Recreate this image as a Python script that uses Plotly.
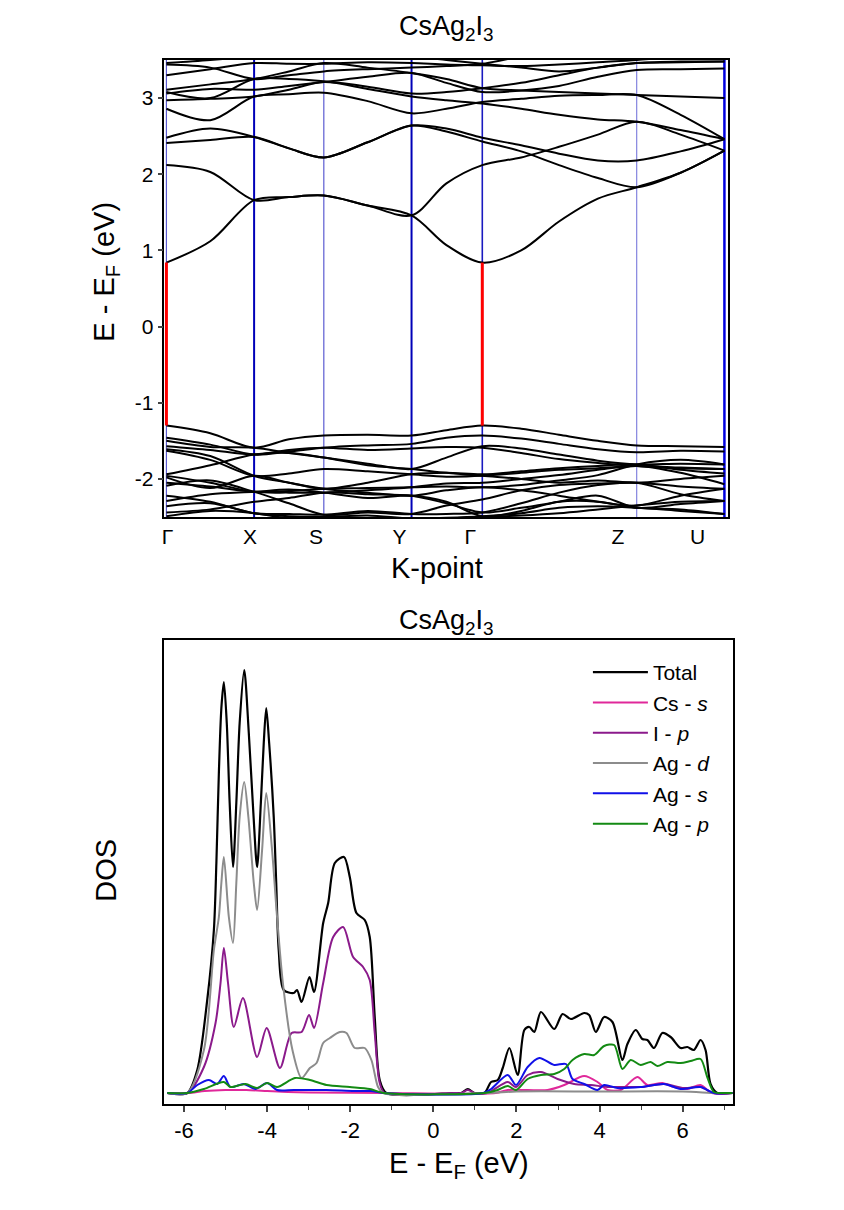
import plotly.graph_objects as go

# ---------------- Band structure data ----------------
k_nodes = [0, 88, 158, 246, 317, 472, 560]
k_labels = ["Γ", "X", "S", "Y", "Γ", "Z", "U"]
k_label_pos = [1, 84, 150, 234, 305, 453, 533]
k_samples = [0, 44, 88, 123, 158, 202, 246, 281, 317, 356, 394, 433, 472, 516, 560]
e_ticks = [-2, -1, 0, 1, 2, 3]
e_tick_text = ["-2", "-1", "0", "1", "2", "3"]

cb1 = [0.84, 1.12, 1.66, 1.70, 1.72, 1.59, 1.46, 1.07, 0.84, 1.00, 1.38, 1.68, 1.83, 2.02, 2.31]
cb2 = [2.12, 2.03, 1.66, 1.70, 1.72, 1.59, 1.46, 1.88, 2.12, 2.22, 2.36, 2.52, 2.69, 2.52, 2.31]
cb3 = [2.41, 2.45, 2.49, 2.34, 2.22, 2.42, 2.64, 2.56, 2.43, 2.30, 2.12, 1.95, 1.83, 2.02, 2.31]
cb4 = [2.48, 2.60, 2.49, 2.34, 2.22, 2.42, 2.64, 2.60, 2.48, 2.38, 2.27, 2.18, 2.18, 2.30, 2.46]
cb5 = [2.86, 2.71, 3.02, 3.05, 3.07, 2.96, 2.80, 2.86, 2.95, 2.99, 3.03, 3.04, 3.04, 2.78, 2.46]
cb6 = [2.97, 2.99, 3.02, 3.11, 3.21, 3.12, 3.02, 2.97, 2.93, 2.86, 2.78, 2.72, 2.69, 2.58, 2.46]
cb7 = [3.06, 3.12, 3.11, 3.16, 3.21, 3.28, 3.33, 3.20, 3.08, 3.10, 3.16, 3.28, 3.37, 3.38, 3.39]
cb8 = [3.08, 3.00, 3.25, 3.25, 3.22, 3.15, 3.06, 3.08, 3.13, 3.20, 3.30, 3.40, 3.46, 3.47, 3.48]
cb9 = [3.11, 3.18, 3.25, 3.35, 3.46, 3.40, 3.33, 3.25, 3.13, 3.10, 3.08, 3.06, 3.04, 3.02, 3.00]
cb10 = [3.30, 3.38, 3.46, 3.45, 3.45, 3.47, 3.46, 3.44, 3.43, 3.42, 3.44, 3.47, 3.50, 3.55, 3.60]
cb11 = [3.44, 3.40, 3.25, 3.30, 3.35, 3.38, 3.40, 3.42, 3.45, 3.55, 3.65, 3.70, 3.70, 3.70, 3.70]
cb12 = [3.46, 3.50, 3.55, 3.60, 3.60, 3.58, 3.55, 3.50, 3.45, 3.40, 3.35, 3.40, 3.46, 3.48, 3.48]

vb1 = [-1.30, -1.40, -1.59, -1.48, -1.43, -1.42, -1.43, -1.36, -1.30, -1.34, -1.42, -1.50, -1.56, -1.57, -1.58]
vb2 = [-1.46, -1.55, -1.68, -1.64, -1.59, -1.56, -1.54, -1.46, -1.43, -1.47, -1.54, -1.61, -1.65, -1.63, -1.64]
vb3 = [-1.50, -1.58, -1.59, -1.66, -1.72, -1.80, -1.87, -1.72, -1.57, -1.60, -1.68, -1.76, -1.81, -1.80, -1.81]
vb4 = [-1.57, -1.62, -1.68, -1.62, -1.59, -1.62, -1.60, -1.58, -1.59, -1.66, -1.74, -1.79, -1.83, -1.86, -1.87]
vb5 = [-1.61, -1.70, -1.96, -2.05, -2.13, -2.05, -1.94, -1.92, -1.94, -1.90, -1.86, -1.83, -1.81, -1.88, -1.93]
vb6 = [-1.94, -1.82, -1.68, -1.66, -1.72, -1.82, -1.87, -1.92, -1.96, -2.00, -2.05, -2.02, -2.05, -2.00, -1.96]
vb7 = [-1.96, -2.05, -2.17, -2.18, -2.18, -2.15, -2.11, -2.06, -2.05, -2.00, -1.95, -1.88, -1.83, -1.92, -2.07]
vb8 = [-1.98, -2.12, -1.96, -2.05, -2.13, -2.18, -2.22, -2.15, -2.11, -2.15, -2.22, -2.30, -2.35, -2.22, -2.13]
vb9 = [-2.09, -2.02, -2.17, -2.32, -2.47, -2.44, -2.46, -2.35, -2.27, -2.15, -2.08, -2.06, -2.05, -2.10, -2.13]
vb10 = [-2.22, -2.30, -2.45, -2.46, -2.47, -2.42, -2.46, -2.46, -2.44, -2.32, -2.18, -2.08, -2.05, -2.20, -2.29]
vb11 = [-2.29, -2.20, -2.17, -2.14, -2.18, -2.25, -2.22, -2.30, -2.49, -2.42, -2.30, -2.30, -2.38, -2.40, -2.46]
vb12 = [-2.36, -2.32, -2.45, -2.49, -2.50, -2.48, -2.52, -2.51, -2.49, -2.45, -2.38, -2.36, -2.38, -2.42, -2.46]
vb13 = [-2.49, -2.42, -2.45, -2.52, -2.55, -2.52, -2.55, -2.52, -2.50, -2.48, -2.45, -2.40, -2.35, -2.30, -2.29]
vb14 = [-1.63, -1.75, -1.96, -1.93, -1.87, -1.90, -1.94, -1.97, -1.96, -1.92, -1.88, -1.86, -1.83, -1.85, -1.87]
vb15 = [-2.05, -2.10, -2.17, -2.16, -2.13, -2.12, -2.11, -2.10, -2.11, -2.08, -2.02, -1.95, -1.81, -1.75, -1.81]
vb16 = [-2.44, -2.40, -2.30, -2.25, -2.18, -2.20, -2.22, -2.32, -2.44, -2.38, -2.30, -2.22, -2.38, -2.33, -2.29]

gap_k = [0, 317]
vbm_energy = -1.30
cbm_energy = 0.84

# ---------------- DOS data ----------------
tot_e = [-6.4, -5.92, -5.68, -5.44, -5.28, -5.22, -5.16, -5.10, -5.04, -4.97, -4.90, -4.82, -4.74,
         -4.66, -4.55, -4.44, -4.33, -4.24, -4.15, -4.08, -4.02, -3.95, -3.84, -3.78, -3.72,
         -3.60, -3.36, -3.28, -3.17, -2.98, -2.87, -2.65, -2.53, -2.37, -2.15, -2.01, -1.85, -1.65,
         -1.53, -1.41, -1.29, -1.13, 0.5, 0.67, 0.83, 0.99, 1.23, 1.39, 1.55, 1.67, 1.83, 2.03, 2.19,
         2.31, 2.43, 2.59, 2.91, 3.11, 3.31, 3.63, 3.75, 3.91, 4.11, 4.31, 4.55, 4.67, 4.87, 5.03,
         5.15, 5.31, 5.51, 5.71, 5.95, 6.11, 6.27, 6.43, 6.55, 6.67, 6.83, 7.2]
tot_v = [0, 0, 23, 93, 163, 230, 320, 385, 411, 370, 290, 226, 290,
         370, 423, 360, 280, 226, 290, 350, 385, 350, 276, 210, 143,
         103, 100, 103, 91, 116, 101, 170, 190, 230, 236, 216, 180, 173,
         156, 76, 13, 0, 0, 0, 4, 0, 0, 11, 13, 25, 45, 18, 63,
         66, 61, 81, 64, 79, 74, 80, 78, 61, 76, 71, 33, 49, 63, 54,
         53, 45, 60, 56, 45, 46, 43, 53, 43, 9, 0, 0]

cs_s_e = [-6.4, -5.9, -5.5, -5.0, -4.5, -4.0, -3.5, -3.0, -1.2, 1.5, 1.79, 2.27, 2.75, 3.15, 3.63,
          3.95, 4.19, 4.51, 4.91, 5.15, 5.51, 5.79, 6.11, 6.43, 6.7, 7.2]
cs_s_v = [0, 0, 2, 3, 3, 2, 1, 0.5, 0, 0, 3, 3, 3, 8, 17,
          11, 3, 3, 16, 8, 10, 6, 4, 8, 0, 0]

i_p_e = [-6.4, -5.92, -5.52, -5.24, -5.12, -5.04, -4.94, -4.80, -4.58, -4.24, -4.01, -3.69, -3.41,
         -3.17, -2.99, -2.87, -2.65, -2.41, -2.17, -1.93, -1.69, -1.53, -1.41, -1.29, -1.17, 0.5,
         0.67, 0.83, 0.99, 1.3, 1.79, 1.99, 2.27, 2.59, 2.99, 3.39, 3.79, 4.19, 4.67, 4.99, 5.55,
         6.03, 6.43, 6.75, 7.2]
i_p_v = [0, 0, 26, 70, 110, 145, 110, 66, 95, 36, 65, 25, 60,
         61, 78, 65, 110, 156, 166, 136, 126, 113, 60, 10, 0, 0,
         0, 3, 0, 0, 11, 6, 18, 21, 14, 9, 8, 6, 6, 6, 9,
         5, 6, 0, 0]

ag_d_e = [-6.4, -5.92, -5.52, -5.28, -5.16, -5.10, -5.04, -4.92, -4.82, -4.74, -4.66, -4.55, -4.45,
          -4.32, -4.24, -4.12, -4.02, -3.88, -3.76, -3.62, -3.39, -3.17, -2.97, -2.81, -2.65, -2.49,
          -2.25, -2.09, -1.89, -1.65, -1.49, -1.33, -1.21, 1.3, 2.0, 4.0, 6.0, 6.8, 7.2]
ag_d_v = [0, 0, 43, 143, 176, 210, 236, 176, 150, 210, 276, 311, 276,
          210, 183, 243, 300, 243, 176, 110, 43, 15, 25, 30, 50, 55,
          61, 60, 45, 45, 33, 6, 0, 0, 1.5, 1.5, 1.5, 0, 0]

ag_s_e = [-6.4, -5.92, -5.68, -5.40, -5.20, -5.04, -4.88, -4.56, -4.28, -4.00, -3.76, -3.36, -2.57,
          -1.9, -1.5, -1.2, 1.2, 1.39, 1.79, 1.99, 2.27, 2.55, 2.91, 3.19, 3.35, 3.63, 3.95, 4.11,
          4.43, 4.99, 5.55, 5.95, 6.43, 6.75, 7.2]
ag_s_v = [0, 0, 8, 13, 9, 17, 6, 9, 4, 10, 3, 3, 3,
          2, 2, 0, 0, 4, 18, 8, 26, 35, 28, 29, 14, 9, 3, 8,
          5, 6, 9, 4, 6, 0, 0]

ag_p_e = [-6.4, -5.92, -5.52, -5.04, -4.88, -4.52, -4.24, -4.00, -3.76, -3.33, -2.97, -2.57, -2.01,
          -1.53, -1.2, 1.23, 1.55, 1.79, 1.99, 2.27, 2.59, 2.91, 3.15, 3.35, 3.63, 3.87, 4.11, 4.35,
          4.55, 4.75, 4.99, 5.23, 5.39, 5.63, 5.95, 6.19, 6.43, 6.59, 6.75, 6.9, 7.2]
ag_p_v = [0, 0, 4, 11, 6, 9, 5, 10, 6, 15, 13, 8, 6,
          4, 0, 0, 3, 7, 3, 14, 18, 19, 24, 33, 39, 38, 47, 48,
          24, 33, 28, 31, 27, 31, 30, 32, 34, 16, 1, 0, 0]

dos_names = ["Total", "Cs - <i>s</i>", "I - <i>p</i>", "Ag - <i>d</i>", "Ag - <i>s</i>", "Ag - <i>p</i>"]
dos_x_ticks = [-6, -4, -2, 0, 2, 4, 6]
dos_x_tick_text = ["-6", "-4", "-2", "0", "2", "4", "6"]

# ---------------- Figure ----------------
FONT = "Arial, Liberation Sans, sans-serif"
fig = go.Figure()

bands = [cb1, cb2, cb3, cb4, cb5, cb6, cb7, cb8, cb9, cb10, cb11, cb12,
         vb1, vb2, vb3, vb4, vb5, vb6, vb7, vb8, vb9, vb10, vb11, vb12, vb13, vb14, vb15, vb16]
for b in bands:
    fig.add_trace(go.Scatter(x=k_samples, y=b, mode="lines", xaxis="x", yaxis="y",
                             line=dict(color="black", width=2, shape="spline", smoothing=0.9),
                             showlegend=False, hoverinfo="skip"))

for kg in gap_k:
    fig.add_trace(go.Scatter(x=[kg, kg], y=[vbm_energy, cbm_energy], mode="lines",
                             xaxis="x", yaxis="y", line=dict(color="#ff0000", width=3),
                             showlegend=False, hoverinfo="skip"))

node_colors = ["#5a5ad0", "#0000b8", "#3a3ac8", "#0000b8", "#1a1ac0", "#6a6ad8", "#0000e0"]
node_widths = [1.2, 2, 1, 2, 1.6, 1, 2.5]
for kn, c, w in zip(k_nodes, node_colors, node_widths):
    fig.add_shape(type="line", xref="x", yref="y domain", x0=kn, x1=kn, y0=0, y1=1,
                  line=dict(color=c, width=w), layer="below")

dos_sets = [(tot_e, tot_v, "black"), (cs_s_e, cs_s_v, "#e0289a"), (i_p_e, i_p_v, "#8b1a8b"),
            (ag_d_e, ag_d_v, "#8c8c8c"), (ag_s_e, ag_s_v, "#1010e8"), (ag_p_e, ag_p_v, "#138a13")]
for (e, v, col), name in zip(dos_sets, dos_names):
    fig.add_trace(go.Scatter(x=e, y=v, mode="lines", name=name, xaxis="x2", yaxis="y2",
                             line=dict(color=col, width=2.2 if col == "black" else 2,
                                       shape="spline", smoothing=0.8),
                             hoverinfo="skip"))

W, H = 844, 1210
TITLE = 29


def px_x(p):
    return p / W


def px_y(p):
    return 1 - p / H


fig.update_layout(
    width=W, height=H, margin=dict(l=0, r=0, t=0, b=0),
    paper_bgcolor="white", plot_bgcolor="white",
    font=dict(family=FONT, color="black", size=20),
    xaxis=dict(domain=[px_x(162), px_x(728)], range=[-2, 564], showgrid=False, zeroline=False,
               tickvals=k_label_pos, ticktext=k_labels, ticks="", showline=True,
               linecolor="black", linewidth=1.5, mirror=True,
               tickfont=dict(size=21), anchor="y"),
    yaxis=dict(domain=[px_y(517), px_y(60)], range=[-2.5, 3.5], showgrid=False, zeroline=False,
               tickvals=e_ticks, ticktext=e_tick_text, ticks="outside", ticklen=5, tickwidth=1.5,
               showline=True, linecolor="black", linewidth=1.5, mirror=True,
               tickfont=dict(size=21), anchor="x"),
    xaxis2=dict(domain=[px_x(162), px_x(733)], range=[-6.47, 7.22], showgrid=False, zeroline=False,
                tickvals=dos_x_ticks, ticktext=dos_x_tick_text, ticks="outside", ticklen=6,
                tickwidth=1.5,
                minor=dict(dtick=1, ticks="outside", ticklen=4, tickwidth=1.2, tick0=-7),
                showline=True, linecolor="black", linewidth=1.5, mirror=True,
                tickfont=dict(size=22), anchor="y2"),
    yaxis2=dict(domain=[px_y(1104), px_y(640)], range=[-11, 453], showgrid=False, zeroline=False,
                showticklabels=False, ticks="", showline=True, linecolor="black", linewidth=1.5,
                mirror=True, anchor="x2"),
    legend=dict(x=px_x(587), y=px_y(652), xanchor="left", yanchor="top", itemwidth=55,
                bgcolor="rgba(0,0,0,0)", font=dict(size=21), tracegroupgap=0),
    annotations=[
        dict(text="CsAg<sub>2</sub>I<sub>3</sub>", x=px_x(445), y=px_y(28), xref="paper", yref="paper",
             showarrow=False, font=dict(size=27), xanchor="center", yanchor="middle"),
        dict(text="CsAg<sub>2</sub>I<sub>3</sub>", x=px_x(445), y=px_y(622), xref="paper", yref="paper",
             showarrow=False, font=dict(size=27), xanchor="center", yanchor="middle"),
        dict(text="E - E<sub>F</sub> (eV)", x=px_x(103), y=px_y(272), xref="paper", yref="paper",
             showarrow=False, textangle=-90, font=dict(size=TITLE), xanchor="center", yanchor="middle"),
        dict(text="K-point", x=px_x(436), y=px_y(568), xref="paper", yref="paper",
             showarrow=False, font=dict(size=TITLE), xanchor="center", yanchor="middle"),
        dict(text="E - E<sub>F</sub> (eV)", x=px_x(458), y=px_y(1165), xref="paper", yref="paper",
             showarrow=False, font=dict(size=TITLE), xanchor="center", yanchor="middle"),
        dict(text="DOS", x=px_x(103), y=px_y(870), xref="paper", yref="paper",
             showarrow=False, textangle=-90, font=dict(size=TITLE), xanchor="center", yanchor="middle"),
    ],
)

fig.write_html("out.html")
